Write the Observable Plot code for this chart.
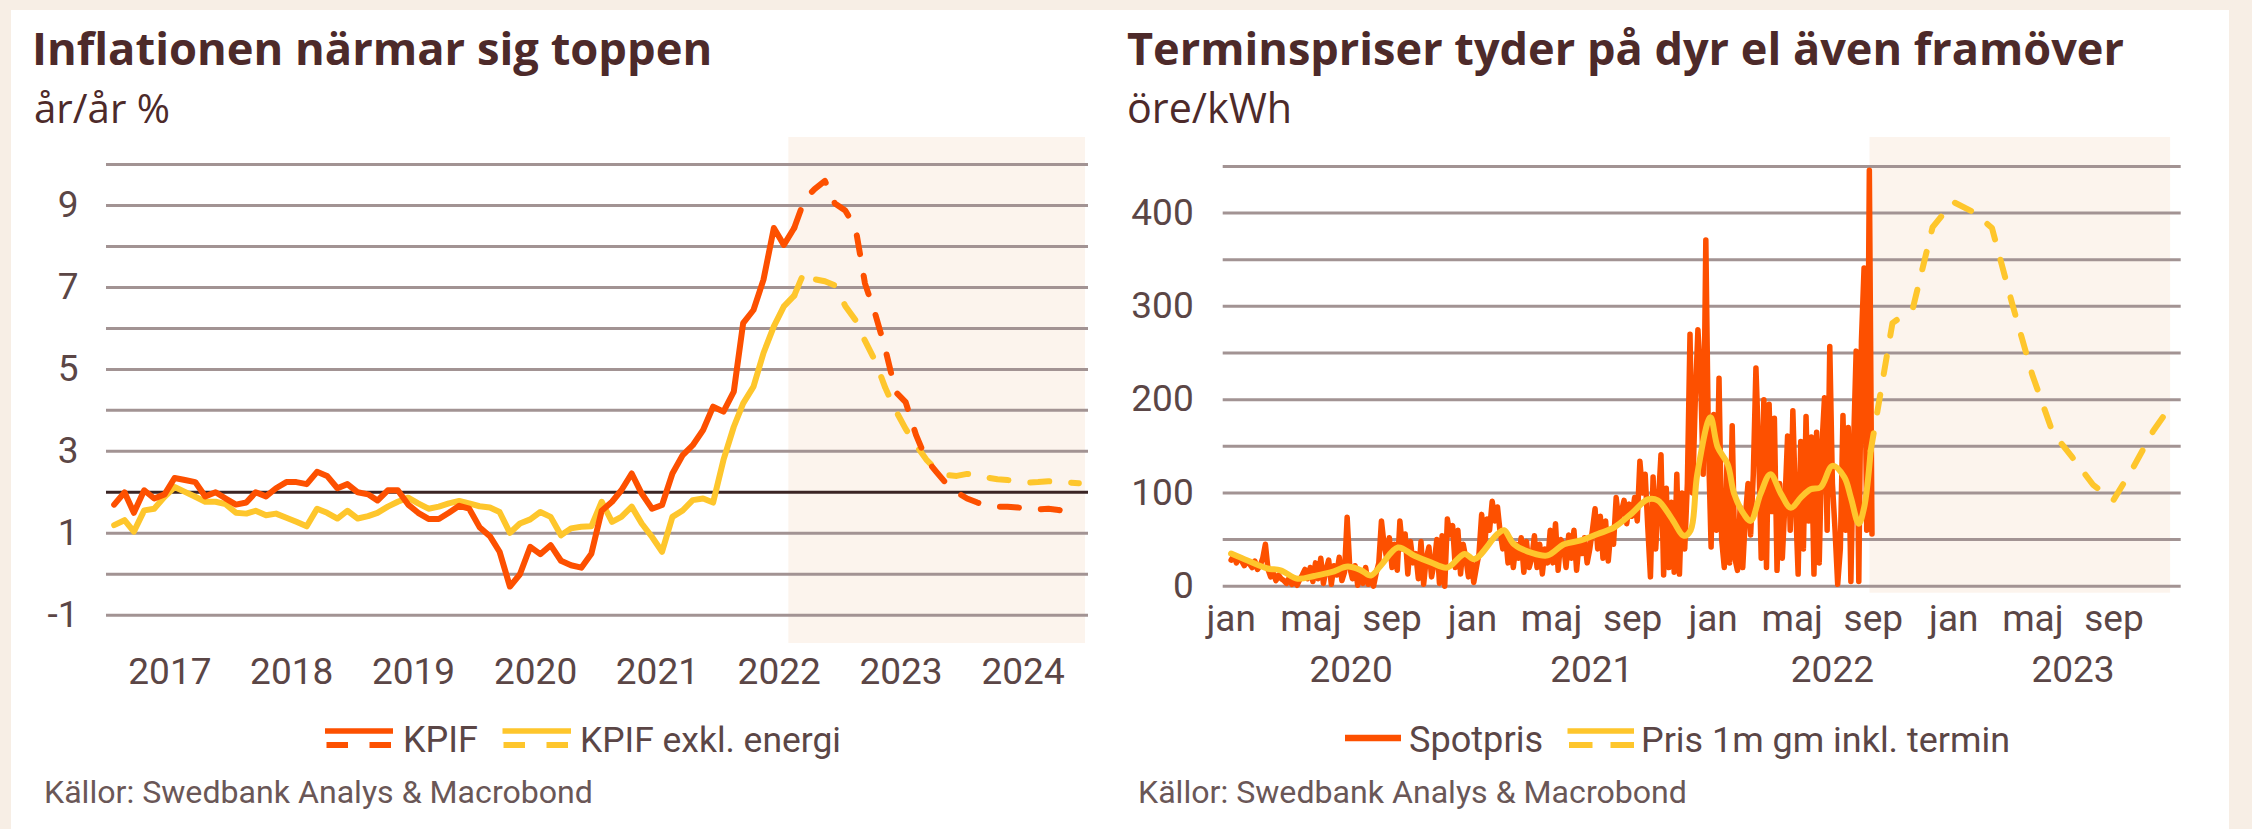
<!DOCTYPE html>
<html>
<head>
<meta charset="utf-8">
<script src="https://cdn.jsdelivr.net/npm/d3@7"></script>
<script src="https://cdn.jsdelivr.net/npm/@observablehq/plot@0.6"></script>
<style>
html, body { margin: 0; padding: 0; }
body { width: 2252px; height: 829px; background: #f7eee5; position: relative; overflow: hidden; font-family: Roboto, sans-serif; }
#card { position: absolute; left: 11px; top: 10px; width: 2218px; height: 819px; background: #ffffff; }
.chart { position: absolute; top: 0; }
#overlay { position: absolute; left: 0; top: 0; }
</style>
</head>
<body>
<div id="card"></div>
<div id="left" class="chart" style="left:0px"></div>
<div id="right" class="chart" style="left:1126px"></div>

<script>
// ---------------- DATA ----------------
// Left chart: KPIF y/y %, monthly from Jan 2017
const kpifStart = "2017-01-01";
const kpifActual = [
  1.7, 2.0, 1.5, 2.05, 1.85, 1.95, 2.35, 2.3, 2.25, 1.9, 2.0, 1.85,
  1.7, 1.75, 2.0, 1.9, 2.1, 2.25, 2.25, 2.2, 2.5, 2.4, 2.1, 2.2,
  2.0, 1.95, 1.8, 2.05, 2.05, 1.7, 1.5, 1.35, 1.35, 1.5, 1.67, 1.6,
  1.15, 0.93, 0.55, -0.3, 0.0, 0.67, 0.49, 0.71, 0.33, 0.22, 0.16, 0.5,
  1.55, 1.77, 2.05, 2.46, 1.97, 1.6, 1.69, 2.46, 2.91, 3.15, 3.52, 4.09,
  3.97, 4.46, 6.13, 6.45, 7.19, 8.45, 8.04, 8.45
];
const kpifExEnergyActual = [
  1.2, 1.32, 1.04, 1.56, 1.6, 1.89, 2.13, 2.01, 1.89, 1.77, 1.77, 1.71,
  1.5, 1.48, 1.55, 1.44, 1.48, 1.38, 1.28, 1.17, 1.6, 1.5, 1.36, 1.55,
  1.36, 1.42, 1.5, 1.65, 1.77, 1.87, 1.73, 1.6, 1.65, 1.73, 1.79, 1.73,
  1.66, 1.63, 1.52, 1.01, 1.24, 1.34, 1.52, 1.4, 0.95, 1.12, 1.16, 1.17,
  1.77, 1.28, 1.4, 1.65, 1.24, 0.91, 0.55, 1.4, 1.56, 1.81, 1.85, 1.75,
  2.79, 3.6, 4.17, 4.58, 5.4, 6.05, 6.54, 6.8
];
// forecasts, monthly from Aug 2022
const forecastStart = "2022-08-01";
const kpifForecast = [
  8.45, 9.15, 9.4, 9.6, 9.05, 8.88, 8.45, 7.1, 6.35, 5.5, 4.45, 4.2, 3.4, 2.8, 2.5,
  2.2, 2.0, 1.85, 1.75, 1.68, 1.65, 1.65, 1.63, 1.6, 1.58, 1.6, 1.57, 1.5, 1.43
];
const kpifExEnergyForecast = [
  6.8, 7.4, 7.2, 7.15, 7.05, 6.55, 6.2, 5.7, 5.2, 4.55, 4.0, 3.55, 3.15, 2.8, 2.55,
  2.42, 2.4, 2.45, 2.44, 2.36, 2.32, 2.3, 2.27, 2.24, 2.25, 2.27, 2.26, 2.24, 2.22
];
const leftGridValues = [-1, 0, 1, 2, 3, 4, 5, 6, 7, 8, 9, 10];
const leftTickValues = [-1, 1, 3, 5, 7, 9];
const leftTarget = 2;
const leftYears = [2017, 2018, 2019, 2020, 2021, 2022, 2023, 2024];
const leftXDomain = ["2016-12-23", "2025-01-13"];
const leftYDomain = [-1.69, 10.66];
const leftForecastPeriod = ["2022-07-30", "2025-01-04"];

// Right chart: electricity price öre/kWh
const spotStart = "2020-01-01";   // sampled every 4 days
const spotStepDays = 4;
const spotValues = [
  28, 33, 25, 30, 27, 22, 26, 24, 20, 27, 18, 22, 30, 45, 18, 10, 14, 6, 12, 8,
  6, 3, 9, 2, 5, 1, 7, 12, 18, 8, 20, 5, 25, 8, 30, 3, 18, 28, 2, 22,
  12, 31, 6, 15, 74, 20, 8, 22, 1, 15, 3, 20, 2, 10, 0, 14, 25, 70, 45, 30,
  52, 20, 45, 17, 70, 40, 56, 13, 48, 25, 35, 8, 48, 2, 30, 42, 10, 25, 50, 3,
  54, 0, 72, 55, 65, 20, 60, 13, 45, 30, 10, 29, 4, 20, 35, 77, 40, 72, 60, 91,
  70, 85, 58, 40, 56, 25, 50, 20, 45, 30, 52, 15, 48, 20, 30, 54, 20, 45, 13, 40,
  25, 60, 25, 67, 17, 50, 45, 20, 55, 30, 60, 17, 48, 35, 52, 25, 40, 60, 83, 40,
  75, 30, 70, 27, 60, 45, 95, 70, 80, 92, 67, 88, 75, 95, 70, 134, 100, 120, 63, 10,
  117, 40, 90, 141, 12, 105, 20, 90, 15, 120, 13, 100, 40, 110, 270, 100, 200, 275, 227, 120,
  371, 150, 42, 184, 60, 223, 50, 20, 130, 25, 172, 30, 17, 85, 20, 75, 110, 55, 120, 234,
  150, 30, 200, 20, 195, 80, 180, 17, 110, 30, 90, 161, 60, 188, 90, 13, 155, 40, 182, 70,
  160, 13, 165, 25, 150, 202, 60, 257, 110, 60, 2, 40, 183, 60, 170, 5, 150, 252, 5, 263,
  341, 60, 446, 56
];
const avgDates = [
  "2020-01-01", "2020-01-26", "2020-02-25", "2020-03-16", "2020-04-11", "2020-05-06", "2020-06-01",
  "2020-06-26", "2020-07-16", "2020-07-31", "2020-08-15", "2020-09-10", "2020-10-05", "2020-10-30",
  "2020-11-24", "2020-12-20", "2021-01-04", "2021-02-08", "2021-02-18", "2021-03-05", "2021-03-31",
  "2021-04-25", "2021-05-20", "2021-06-14", "2021-07-10", "2021-08-04", "2021-08-29", "2021-09-24",
  "2021-10-09", "2021-10-29", "2021-11-18", "2021-11-28", "2021-12-08", "2021-12-28", "2022-01-08",
  "2022-01-23", "2022-02-02", "2022-02-17", "2022-02-27", "2022-03-14", "2022-03-29", "2022-04-14",
  "2022-04-29", "2022-05-14", "2022-05-29", "2022-06-13", "2022-07-01", "2022-07-19", "2022-07-29",
  "2022-08-10", "2022-08-18", "2022-08-28"
];
const avgValues = [
  35, 27.5, 19, 17, 8, 11, 15,
  21, 17, 11.5, 22, 41.5, 32.6, 25.5,
  20, 34.6, 29, 56, 60, 45, 36,
  33, 45, 49, 56, 63, 77, 93,
  92, 74, 54, 60, 120, 181, 149,
  131, 99, 77, 70, 99, 120, 99,
  84, 95, 104, 106, 129, 117, 95,
  67, 84, 145
];
const termDates = [
  "2022-08-28", "2022-09-30", "2022-10-31", "2022-11-30", "2022-12-31", "2023-01-31", "2023-02-28",
  "2023-03-31", "2023-04-30", "2023-05-31", "2023-06-30", "2023-07-31", "2023-08-31", "2023-09-30",
  "2023-10-31", "2023-11-30"
];
const termValues = [145, 282, 298, 385, 412, 401, 384, 302, 227, 165, 138, 109, 92, 127, 167, 197];
const rightGridValues = [0, 50, 100, 150, 200, 250, 300, 350, 400, 450];
const rightTickValues = [0, 100, 200, 300, 400];
const monthLabels = ["jan", "maj", "sep"];
const rightYears = [2020, 2021, 2022, 2023];
const rightXDomain = ["2019-12-20", "2023-12-12"];
const rightYDomain = [-7.5, 481];
const rightForecastPeriod = ["2022-08-27", "2023-11-26"];

// ---------------- STYLE ----------------
const ORANGE = "#fd5000";
const YELLOW = "#fec62c";
const GRID = "#a29393";
const TARGET = "#3a2424";
const SHADE = "#fcf4ed";
const INK = "#5b4646";
const TITLE = "#4d2a2a";
const LINE_W = 6;

// ---------------- HELPERS ----------------
const D = s => new Date(s + "T00:00:00Z");
const midMonth = (start, i) => d3.utcDay.offset(d3.utcMonth.offset(D(start), i), 14);
const monthlyRows = (start, arr) => arr.map((v, i) => ({date: midMonth(start, i), value: v}));

const kpifRows = monthlyRows(kpifStart, kpifActual);
const kpifExRows = monthlyRows(kpifStart, kpifExEnergyActual);
const kpifFcRows = monthlyRows(forecastStart, kpifForecast);
const kpifExFcRows = monthlyRows(forecastStart, kpifExEnergyForecast);

const spotRows = spotValues.map((v, i) => ({date: d3.utcDay.offset(D(spotStart), i * spotStepDays), value: v}));
const avgRows = avgDates.map((d, i) => ({date: D(d), value: avgValues[i]}));
const termRows = termDates.map((d, i) => ({date: D(d), value: termValues[i]}));

const plotStyle = {fontFamily: "Roboto, sans-serif", fontSize: "37px", color: INK, background: "transparent", overflow: "visible"};

// ---------------- LEFT CHART ----------------
const left = Plot.plot({
  width: 1126, height: 700,
  marginLeft: 106, marginRight: 38, marginTop: 137, marginBottom: 57,
  style: plotStyle,
  x: {type: "utc", domain: leftXDomain.map(D), ticks: leftYears.map(y => D(y + "-07-01")),
      tickFormat: d => String(d.getUTCFullYear()), tickSize: 0, tickPadding: 14, label: null},
  y: {domain: leftYDomain, ticks: leftTickValues, tickFormat: d => String(d), tickSize: 0, tickPadding: 28, label: null},
  marks: [
    Plot.rect([{x1: D(leftForecastPeriod[0]), x2: D(leftForecastPeriod[1])}],
      {x1: "x1", x2: "x2", y1: leftYDomain[0], y2: leftYDomain[1], fill: SHADE}),
    Plot.ruleY(leftGridValues.filter(v => v !== leftTarget), {stroke: GRID, strokeWidth: 3}),
    Plot.ruleY([leftTarget], {stroke: TARGET, strokeWidth: 3}),
    Plot.line(kpifExRows, {x: "date", y: "value", stroke: YELLOW, strokeWidth: LINE_W}),
    Plot.line(kpifExFcRows, {x: "date", y: "value", stroke: YELLOW, strokeWidth: LINE_W, strokeDasharray: "19,22"}),
    Plot.line(kpifRows, {x: "date", y: "value", stroke: ORANGE, strokeWidth: LINE_W}),
    Plot.line(kpifFcRows, {x: "date", y: "value", stroke: ORANGE, strokeWidth: LINE_W, strokeDasharray: "19,22"})
  ]
});
document.getElementById("left").appendChild(left);

// ---------------- RIGHT CHART ----------------
const monthTicks = [];
for (const y of rightYears) for (let k = 0; k < monthLabels.length; k++) monthTicks.push(new Date(Date.UTC(y, k * 4, 1)));

const right = Plot.plot({
  width: 1126, height: 700,
  marginLeft: 96.7, marginRight: 71.3, marginTop: 137, marginBottom: 107.3,
  style: plotStyle,
  x: {type: "utc", domain: rightXDomain.map(D), ticks: monthTicks,
      tickFormat: d => monthLabels[d.getUTCMonth() / 4], tickSize: 0, tickPadding: 11.5, label: null},
  y: {domain: rightYDomain, ticks: rightTickValues, tickFormat: d => String(d), tickSize: 0, tickPadding: 29.5, label: null},
  marks: [
    Plot.rect([{x1: D(rightForecastPeriod[0]), x2: D(rightForecastPeriod[1])}],
      {x1: "x1", x2: "x2", y1: rightYDomain[0], y2: rightYDomain[1], fill: SHADE}),
    Plot.ruleY(rightGridValues, {stroke: GRID, strokeWidth: 3}),
    Plot.line(spotRows, {x: "date", y: "value", stroke: ORANGE, strokeWidth: 5.5}),
    Plot.line(avgRows, {x: "date", y: "value", stroke: YELLOW, strokeWidth: LINE_W, curve: "catmull-rom"}),
    Plot.line(termRows, {x: "date", y: "value", stroke: YELLOW, strokeWidth: LINE_W, strokeDasharray: "18,21"}),
    Plot.text(rightYears.map(y => D(y + "-07-01")), {x: d => d, text: d => String(d.getUTCFullYear()),
      frameAnchor: "bottom", lineAnchor: "top", dy: 63, fill: INK, fontSize: 37})
  ]
});
document.getElementById("right").appendChild(right);

// ---------------- TITLES, LEGENDS, CAPTIONS ----------------
const NS = "http://www.w3.org/2000/svg";
const overlay = document.createElementNS(NS, "svg");
overlay.setAttribute("id", "overlay");
overlay.setAttribute("width", 2252);
overlay.setAttribute("height", 829);
document.body.appendChild(overlay);

function addText(str, x, y, opts) {
  const t = document.createElementNS(NS, "text");
  t.textContent = str;
  t.setAttribute("x", x);
  t.setAttribute("y", y);
  t.setAttribute("font-family", opts.family || "Roboto");
  t.setAttribute("font-weight", opts.weight || 400);
  t.setAttribute("font-size", opts.size);
  t.setAttribute("fill", opts.fill || INK);
  t.dataset.w = opts.w;
  overlay.appendChild(t);
  return t;
}
function addLine(x1, x2, y, color, width, dash) {
  const l = document.createElementNS(NS, "line");
  l.setAttribute("x1", x1); l.setAttribute("x2", x2);
  l.setAttribute("y1", y); l.setAttribute("y2", y);
  l.setAttribute("stroke", color); l.setAttribute("stroke-width", width);
  if (dash) l.setAttribute("stroke-dasharray", dash);
  overlay.appendChild(l);
}

const titles = ["Inflationen närmar sig toppen", "Terminspriser tyder på dyr el även framöver"];
const subtitles = ["år/år %", "öre/kWh"];
const legendLeft = ["KPIF", "KPIF exkl. energi"];
const legendRight = ["Spotpris", "Pris 1m gm inkl. termin"];
const caption = "Källor: Swedbank Analys & Macrobond";

addText(titles[0], 32, 65, {family: "Open Sans", weight: 700, size: 46, fill: TITLE, w: 680});
addText(titles[1], 1127, 65, {family: "Open Sans", weight: 700, size: 46, fill: TITLE, w: 997});
addText(subtitles[0], 34, 123, {family: "Open Sans", size: 38, fill: TITLE, w: 136});
addText(subtitles[1], 1127, 123, {family: "Open Sans", size: 38, fill: TITLE, w: 165});

// left legend
addLine(325, 393, 731, ORANGE, 5.5);
addLine(326.5, 391.5, 745, ORANGE, 6, "21.5,21.5");
addText(legendLeft[0], 403, 752, {size: 35, w: 75});
addLine(502.5, 571, 731, YELLOW, 5.5);
addLine(503.5, 570.5, 745, YELLOW, 6, "21.5,21.5");
addText(legendLeft[1], 580, 752, {size: 35, w: 261});
// right legend
addLine(1345, 1401, 738, ORANGE, 6.5);
addText(legendRight[0], 1409, 752, {size: 35, w: 134});
addLine(1567.5, 1634, 731, YELLOW, 5.5);
addLine(1569, 1634, 745, YELLOW, 6, "23.5,18");
addText(legendRight[1], 1641, 752, {size: 35, w: 369});

addText(caption, 44, 803, {size: 30, w: 549, fill: "#6a5757"});
addText(caption, 1138, 803, {size: 30, w: 549, fill: "#6a5757"});

function fitAll() {
  overlay.querySelectorAll("text").forEach(t => {
    const target = +t.dataset.w;
    const len = t.getComputedTextLength();
    if (len > 0) {
      const fs = parseFloat(t.getAttribute("font-size"));
      t.setAttribute("font-size", (fs * target / len).toFixed(2));
    }
  });
}
fitAll();
if (document.fonts && document.fonts.ready) document.fonts.ready.then(() => { fitAll(); });
</script>
</body>
</html>
